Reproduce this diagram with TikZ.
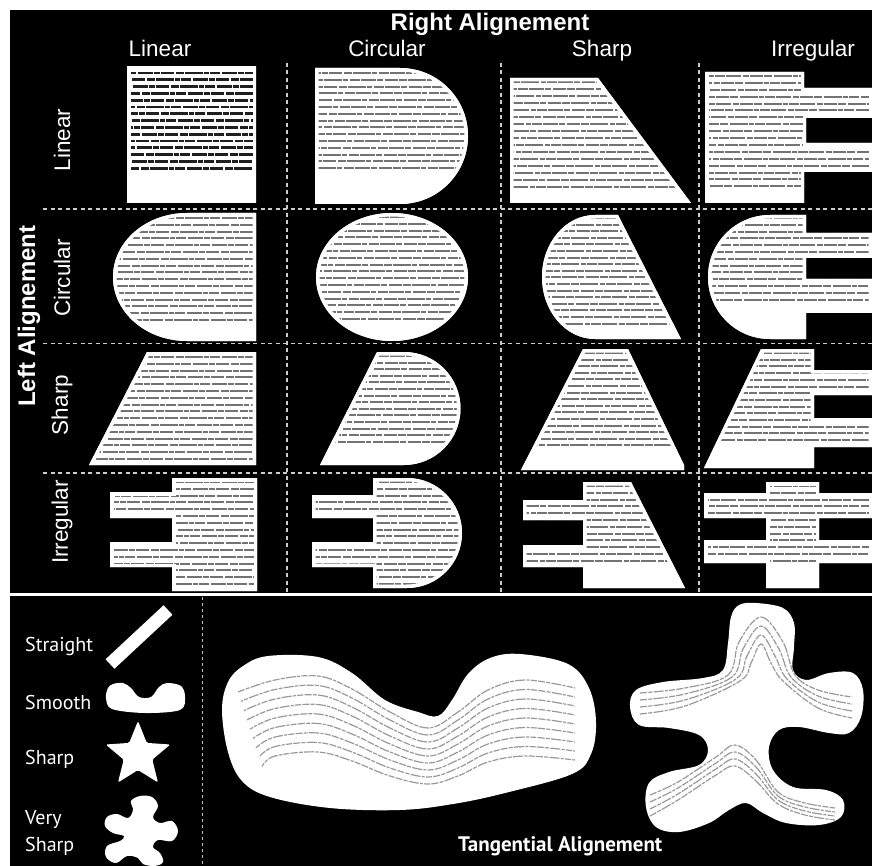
\documentclass[tikz,border=0pt]{standalone}
\usepackage{fontspec}
\setmainfont{Liberation Sans}
\newfontfamily\ptsans{PT Sans}
\newcommand\txtcell[5]{%
  \fill[white] #1;
  \begin{scope}
    \clip #1;
    \foreach \ii in {0,...,#3} {
      \pgfmathsetmacro\yy{#2+#4*\ii}
      \pgfmathsetmacro\ph{mod(\ii*29+7,53)}
      \draw[#5, dash phase=\ph pt] (0,\yy) -- (872,\yy);
    }
    \draw[white, line width=7pt] #1;
  \end{scope}}
\begin{document}
\begin{tikzpicture}[x=1pt, y=-1pt,
  hdr/.style={text=white, font=\fontsize{22.5}{26}\selectfont, inner sep=0pt},
  ttl/.style={text=white, font=\bfseries\fontsize{24}{28}\selectfont, inner sep=0pt},
  gridline/.style={white!80!black, line width=1.3pt, dash pattern=on 4pt off 3.5pt},
  txt/.style={black!55, line width=2pt, dash pattern=on 13pt off 1.3pt on 8pt off 1.3pt on 18pt off 1.3pt on 5pt off 1.3pt on 10pt off 1.3pt on 15pt off 1.3pt on 6pt off 1.3pt},
  txtb/.style={txt, black!88, line width=2.9pt},
  lbl/.style={text=white, font=\ptsans\fontsize{20}{24}\selectfont, inner sep=0pt, anchor=base west},
  ctxt/.style={black!40, line width=1.2pt, dash pattern=on 7pt off 1.3pt on 4pt off 1.3pt on 10pt off 1.3pt on 3pt off 1.3pt on 6pt off 1.3pt}]
\useasboundingbox (0,0) rectangle (872,866);
\fill[white] (0,0) rectangle (872,866);
\fill[black] (10,10) rectangle (872,593);
\fill[black] (10,596) rectangle (872,866);

% ---- titles
\node[ttl, anchor=base] (ttlR) at (490,31) {Right Alignement};
\node[ttl, rotate=90] (ttlL) at (29,316) {Left Alignement};
\node[hdr, anchor=base] (cLin) at (160,57) {Linear};
\node[hdr, anchor=base] (cCir) at (387,57) {Circular};
\node[hdr, anchor=base] (cSha) at (602,57) {Sharp};
\node[hdr, anchor=base] (cIrr) at (813,57) {Irregular};
\node[hdr, rotate=90] (rLin) at (62,140) {Linear};
\node[hdr, rotate=90] (rCir) at (62,278) {Circular};
\node[hdr, rotate=90] (rSha) at (62,405) {Sharp};
\node[hdr, rotate=90] (rIrr) at (62,522) {Irregular};

% ---- grid
\draw[gridline] (287,63) -- (287,592);
\draw[gridline] (501,63) -- (501,592);
\draw[gridline] (699,63) -- (699,592);
\draw[gridline] (43,209) -- (872,209);
\draw[gridline] (43,343.5) -- (872,343.5);
\draw[gridline] (43,473) -- (872,473);

% ---- row Linear
\txtcell{(127,67) rectangle (256,203)}{73}{14}{6.8}{txtb}
\txtcell{(315,68) -- (400,68) arc[start angle=-90, end angle=90, radius=68] -- (315,204) -- cycle}{73}{14}{6.8}{txt}
\txtcell{(510,78) -- (598,78) -- (691,203) -- (510,203) -- cycle}{82}{15}{7}{txt}
\txtcell{(705,72) -- (804,72) -- (804,88) -- (872,88) -- (872,118) -- (806,118) -- (806,143) -- (872,143) -- (872,172) -- (804,172) -- (804,203) -- (705,203) -- cycle}{76}{16}{6.9}{txt}
% ---- row Circular
\txtcell{(256,213) -- (187,213) arc[start angle=-90, end angle=-270, x radius=74, y radius=64] -- (256,341) -- cycle}{218}{15}{6.8}{txt}
\txtcell{(392,277) ellipse [x radius=76, y radius=64]}{217}{15}{6.8}{txt}
\txtcell{(618,215) -- (595,215) arc[start angle=-90, end angle=-270, x radius=53, y radius=62] -- (681,339) -- cycle}{218}{16}{6.6}{txt}
\txtcell{(806,215) -- (770,215) arc[start angle=-90, end angle=-270, radius=62] -- (806,339) -- (806,313) -- (872,313) -- (872,279) -- (806,279) -- (806,258) -- (872,258) -- (872,233) -- (806,233) -- cycle}{218}{12}{6.8}{txt}
% ---- row Sharp
\txtcell{(147,352) -- (256,352) -- (256,465) -- (89,465) -- cycle}{357}{15}{6.8}{txt}
\txtcell{(377,352) -- (404,352) arc[start angle=-90, end angle=90, radius=56.5] -- (320,465) -- cycle}{356}{13}{6.6}{txt}
\txtcell{(583,349) -- (628,349) -- (684,465) -- (684,470) -- (521,470) -- cycle}{353}{14}{6.6}{txt}
\txtcell{(761,349) -- (814,349) -- (814,370) -- (872,370) -- (872,395) -- (814,395) -- (814,418) -- (872,418) -- (872,447) -- (814,447) -- (814,468) -- (704,468) -- cycle}{353}{13}{6.7}{txt}
% ---- row Irregular
\txtcell{(172,478) -- (257,478) -- (257,591) -- (172,591) -- (172,567) -- (110,567) -- (110,542) -- (172,542) -- (172,518) -- (110,518) -- (110,492) -- (172,492) -- cycle}{482}{15}{6.8}{txt}
\txtcell{(373,478) -- (407,478) arc[start angle=-90, end angle=90, radius=55] -- (373,588) -- (373,567) -- (312,567) -- (312,542) -- (373,542) -- (373,518) -- (312,518) -- (312,495) -- (373,495) -- cycle}{482}{15}{6.8}{txt}
\txtcell{(583,482) -- (631,482) -- (685,588) -- (583,588) -- (583,567) -- (523,567) -- (523,545) -- (583,545) -- (583,520) -- (523,520) -- (523,500) -- (583,500) -- cycle}{486}{11}{6.8}{txt}
\txtcell{(766,482) -- (819,482) -- (819,493) -- (872,493) -- (872,518) -- (819,518) -- (819,540) -- (872,540) -- (872,563) -- (819,563) -- (819,588) -- (766,588) -- (766,563) -- (704,563) -- (704,540) -- (766,540) -- (766,518) -- (704,518) -- (704,493) -- (766,493) -- cycle}{486}{11}{6.8}{txt}

% ---- bottom panel
\draw[white!75!black, line width=1pt, dash pattern=on 3pt off 3pt] (202,597) -- (202,866);
\node[lbl] (lStr) at (25,651) {Straight};
\node[lbl] (lSmo) at (25,709) {Smooth};
\node[lbl] (lSha) at (25,764) {Sharp};
\node[lbl] (lVer) at (25,824) {Very};
\node[lbl] (lVSh) at (25,851) {Sharp};
\node[lbl, font=\ptsans\bfseries\fontsize{21}{25}\selectfont] (lTan) at (458,851) {Tangential Alignement};

% small icons
\draw[white, line width=13pt] (110,664) -- (168,610);
\fill[white] plot[smooth cycle, tension=0.55] coordinates {(108,688) (106,698) (112,709) (145,713) (180,710) (185,697) (181,686) (167,683) (159,687) (151,697) (139,697) (131,688) (123,683) (113,684)};
\fill[white, rounded corners=1.5pt] (138,721) -- (146.8,742.9) -- (170.3,744.5) -- (152.3,759.6) -- (158,782.5) -- (138,770) -- (118,782.5) -- (123.7,759.6) -- (105.7,744.5) -- (129.2,742.9) -- cycle;
\fill[white] plot[smooth cycle, tension=0.6] coordinates {(140,796) (152,797) (158,806) (153,817) (160,823) (172,821) (178,831) (172,841) (158,840) (153,847) (160,853) (163,862) (155,866) (143,864) (138,858) (127,856) (116,863) (106,857) (107,846) (120,841) (124,836) (113,833) (105,826) (107,817) (117,814) (128,818) (133,810) (131,801)};

% big smooth blob
\def\blobA{plot[smooth cycle, tension=0.6] coordinates {(222,710) (228,682) (243,666) (268,656) (318,657) (352,673) (385,700) (418,712) (438,716) (452,700) (468,674) (490,658) (520,654) (568,664) (589,688) (596,722) (591,754) (572,774) (505,793) (453,804) (400,810) (330,808) (270,797) (242,781) (228,752)}}
\fill[white] \blobA;
\begin{scope}
\clip \blobA;
\foreach \i in {0,...,8} {
  \draw[ctxt, dash phase=\i*5 pt] plot[smooth, tension=0.6] coordinates {(238+3*\i,692+9.3*\i) (275,680+9.5*\i) (318,676+9.5*\i) (352,689+9*\i) (390,712+8*\i) (428,728+7*\i) (458,712+8*\i) (488,690+9*\i) (525,680+9.5*\i) (575,688+9*\i)};
}
\end{scope}

% big very sharp blob
\def\blobB{plot[smooth cycle, tension=0.6] coordinates {(756,603) (783,608) (794,623) (794,647) (793,670) (806,680) (829,673) (853,673) (863,690) (861,717) (849,733) (829,733) (799,727) (779,730) (769,747) (773,770) (793,787) (826,790) (843,800) (841,817) (819,825) (786,823) (763,813) (746,803) (729,810) (709,823) (679,832) (656,827) (646,807) (649,783) (669,772) (699,765) (708,750) (699,735) (669,728) (639,725) (630,707) (636,690) (663,682) (703,678) (723,670) (728,643) (731,617) (739,605)}}
\fill[white] \blobB;
\begin{scope}
\clip \blobB;
\foreach \j in {0,...,3} {
  \draw[ctxt] plot[smooth, tension=0.6] coordinates {(640,693+7*\j) (685,688+6*\j) (728+4*\j,675+2*\j) (739+4*\j,642+7*\j) (761,617+9*\j) (783-4*\j,642+7*\j) (795-4*\j,675+2*\j) (818,690+6*\j) (852,697+7*\j)};
  \draw[ctxt] plot[smooth, tension=0.6] coordinates {(650,795+7*\j) (678,782+6*\j) (716,757+6*\j) (735,745+7*\j) (756,760+7*\j) (778,792+4*\j) (805,803+4*\j) (835,808+4*\j)};
}
\end{scope}
\end{tikzpicture}
\end{document}
